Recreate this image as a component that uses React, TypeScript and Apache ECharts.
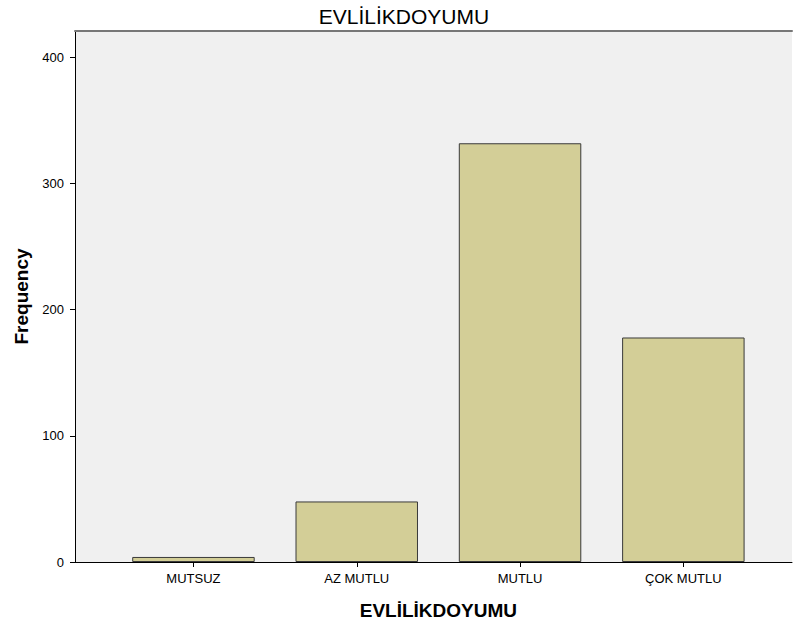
import React, { useEffect, useRef } from 'react';
import * as echarts from 'echarts';

const categories = ['MUTSUZ', 'AZ MUTLU', 'MUTLU', 'ÇOK MUTLU'];
const frequencies = [4, 48, 332, 178];
const yTicks = [0, 100, 200, 300, 400];
const yMax = 421;
const chartTitle = 'EVLİLİKDOYUMU';
const xTitle = 'EVLİLİKDOYUMU';
const yTitle = 'Frequency';

export default function App() {
  const ref = useRef<HTMLDivElement>(null);
  useEffect(() => {
    const chart = echarts.init(ref.current!, null, { renderer: 'svg' });
    const font = '"Liberation Sans", Arial, sans-serif';
    chart.setOption({
      animation: false,
      title: {
        text: chartTitle,
        left: 399,
        top: 1,
        textAlign: 'center',
        textStyle: { fontFamily: font, fontSize: 21, fontWeight: 'normal', color: '#000' },
      },
      grid: [
        { left: 75, right: 1, top: 31, bottom: 63, show: true, backgroundColor: '#f0f0f0', borderWidth: 0, outerBoundsMode: 'none', containLabel: false },
        { left: 111.8, right: 28, top: 31, bottom: 63, outerBoundsMode: 'none', containLabel: false },
      ],
      xAxis: [
        {
          gridIndex: 0, type: 'value', position: 'bottom', min: 0, max: 1,
          axisLine: { show: true, lineStyle: { color: '#000', width: 1 } },
          axisTick: { show: false }, axisLabel: { show: false }, splitLine: { show: false },
        },
        {
          gridIndex: 0, type: 'value', position: 'top', min: 0, max: 1,
          axisLine: { show: true, lineStyle: { color: '#777', width: 2 } },
          axisTick: { show: false }, axisLabel: { show: false }, splitLine: { show: false },
        },
        {
          gridIndex: 1, type: 'category', data: categories,
          axisLine: { show: false },
          axisTick: { show: true, alignWithLabel: true, length: 5, lineStyle: { color: '#000' } },
          axisLabel: { fontFamily: font, fontSize: 13, color: '#000', margin: 10 },
          name: xTitle, nameLocation: 'middle', nameGap: 39,
          nameTextStyle: { fontFamily: font, fontSize: 19, fontWeight: 'bold', color: '#000' },
        },
      ],
      yAxis: [
        {
          gridIndex: 0, type: 'value', min: 0, max: yMax,
          axisLine: { show: true, lineStyle: { color: '#000', width: 1 } },
          axisTick: { show: true, length: 5, customValues: yTicks, lineStyle: { color: '#000' } },
          axisLabel: { fontFamily: font, fontSize: 13, color: '#000', margin: 11, customValues: yTicks },
          splitLine: { show: false },
          name: yTitle, nameLocation: 'middle', nameGap: 43,
          nameTextStyle: { fontFamily: font, fontSize: 19, fontWeight: 'bold', color: '#000' },
        },
        {
          gridIndex: 1, type: 'value', min: 0, max: yMax, show: false,
        },
      ],
      series: [
        {
          type: 'bar', xAxisIndex: 2, yAxisIndex: 1, data: frequencies, barWidth: '75%',
          itemStyle: { color: '#d3ce97', borderColor: '#3a3a3a', borderWidth: 1 },
        },
      ],
    });
    return () => chart.dispose();
  }, []);
  return <div ref={ref} style={{ position: 'absolute', left: 0, top: 0, width: 793, height: 625 }} />;
}
